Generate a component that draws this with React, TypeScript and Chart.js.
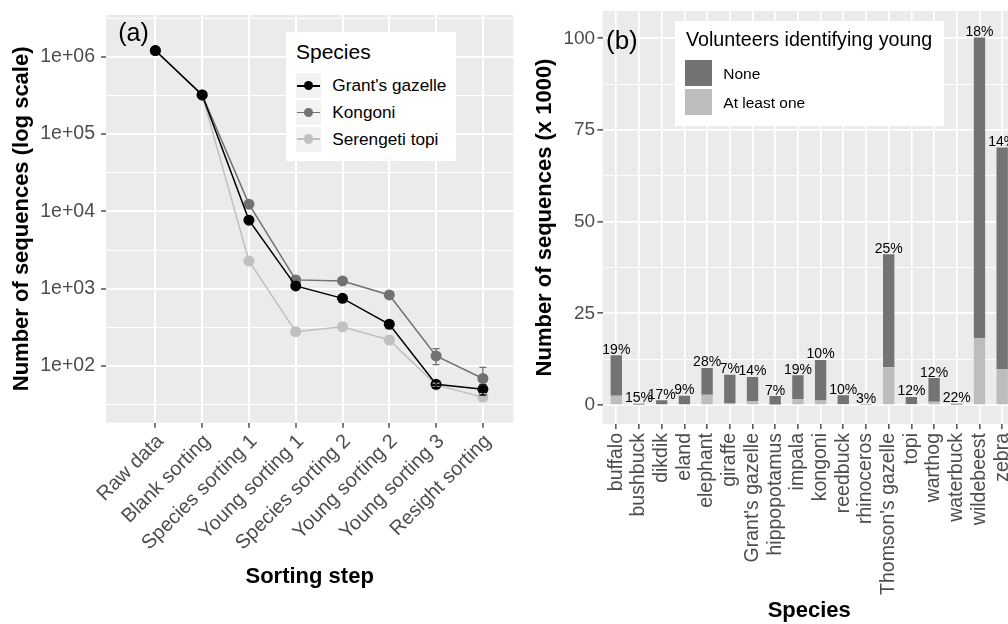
import React, { useEffect, useRef } from 'react';
import { Chart, registerables } from 'chart.js';

Chart.register(...registerables);

const FONT = "'Liberation Sans', Arial, Helvetica, sans-serif";

// ---------- Panel (a) data ----------
const sortingSteps = [
  'Raw data', 'Blank sorting', 'Species sorting 1', 'Young sorting 1',
  'Species sorting 2', 'Young sorting 2', 'Young sorting 3', 'Resight sorting',
];
const seriesNames = ["Grant's gazelle", 'Kongoni', 'Serengeti topi'];
const grantsGazelle = [1200000, 320000, 7700, 1085, 750, 347, 58, 50];
const kongoni = [1200000, 320000, 12400, 1300, 1260, 830, 135, 69];
const serengetiTopi = [1200000, 320000, 2280, 278, 322, 217, 57, 39.5];
const grantsLow: (number | null)[] = [null, null, null, null, null, null, 53, 42];
const grantsHigh: (number | null)[] = [null, null, null, null, null, null, 63, 57];
const kongoniLow: (number | null)[] = [null, null, null, null, null, null, 104, 57];
const kongoniHigh: (number | null)[] = [null, null, null, null, null, null, 168, 96];
const topiLow: (number | null)[] = [null, null, null, null, null, null, 54, 35];
const topiHigh: (number | null)[] = [null, null, null, null, null, null, 60, 44];
const seriesColors = ['#000000', '#717171', '#c0c0c0'];

const logMajorTicks = [100, 1000, 10000, 100000, 1000000];
const logMajorLabels = ['1e+02', '1e+03', '1e+04', '1e+05', '1e+06'];
const logMinorTicks = [10 ** 1.5, 10 ** 2.5, 10 ** 3.5, 10 ** 4.5, 10 ** 5.5, 10 ** 6.5];

// ---------- Panel (b) data ----------
const speciesNames = [
  'buffalo', 'bushbuck', 'dikdik', 'eland', 'elephant', 'giraffe', "Grant's gazelle",
  'hippopotamus', 'impala', 'kongoni', 'reedbuck', 'rhinoceros', "Thomson's gazelle",
  'topi', 'warthog', 'waterbuck', 'wildebeest', 'zebra',
];
const atLeastOne = [2.55, 0.06, 0.22, 0.23, 2.83, 0.58, 1.07, 0.17, 1.54, 1.23, 0.26, 0.002, 10.3, 0.26, 0.88, 0.07, 18.2, 9.8];
const noneCounts = [11.05, 0.3, 1.08, 2.32, 7.27, 7.69, 6.57, 2.28, 6.56, 11.07, 2.38, 0.05, 30.8, 1.94, 6.48, 0.24, 82.0, 60.4];
const pctLabels = ['19%', '15%', '17%', '9%', '28%', '7%', '14%', '7%', '19%', '10%', '10%', '3%', '25%', '12%', '12%', '22%', '18%', '14%'];
const fillNames = ['None', 'At least one'];
const fillColors = ['#737373', '#bdbdbd'];
const barMajorTicks = [0, 25, 50, 75, 100];
const barMajorLabels = ['0', '25', '50', '75', '100'];
const barMinorTicks = [12.5, 37.5, 62.5, 87.5];

const near = (a: number, b: number) => Math.abs(a - b) < 1e-6 * Math.max(1, Math.abs(b));

const panelBg = {
  id: 'panelBg',
  beforeDraw(chart: any) {
    const { ctx, chartArea: a } = chart;
    ctx.save();
    ctx.fillStyle = '#ebebeb';
    ctx.fillRect(a.left, a.top, a.right - a.left, a.bottom - a.top);
    ctx.restore();
  },
};

const errorSeries = [
  { low: topiLow, high: topiHigh, color: seriesColors[2] },
  { low: kongoniLow, high: kongoniHigh, color: seriesColors[1] },
  { low: grantsLow, high: grantsHigh, color: seriesColors[0] },
];

const errorBars = {
  id: 'errorBars',
  afterDatasetsDraw(chart: any) {
    const { ctx } = chart;
    const xs = chart.scales.x;
    const ys = chart.scales.y;
    ctx.save();
    errorSeries.forEach((s) => {
      ctx.strokeStyle = s.color;
      ctx.lineWidth = 1.3;
      s.low.forEach((lo, i) => {
        const hi = s.high[i];
        if (lo == null || hi == null) return;
        const px = xs.getPixelForValue(i);
        const y1 = ys.getPixelForValue(lo);
        const y2 = ys.getPixelForValue(hi);
        ctx.beginPath();
        ctx.moveTo(px, y1); ctx.lineTo(px, y2);
        ctx.moveTo(px - 3.5, y1); ctx.lineTo(px + 3.5, y1);
        ctx.moveTo(px - 3.5, y2); ctx.lineTo(px + 3.5, y2);
        ctx.stroke();
      });
    });
    ctx.restore();
  },
};

const pctLabelPlugin = {
  id: 'pctLabels',
  afterDatasetsDraw(chart: any) {
    const { ctx } = chart;
    const xs = chart.scales.x;
    const ys = chart.scales.y;
    ctx.save();
    ctx.fillStyle = '#000';
    ctx.font = `14px ${FONT}`;
    ctx.textAlign = 'center';
    ctx.textBaseline = 'alphabetic';
    pctLabels.forEach((lab, i) => {
      const total = atLeastOne[i] + noneCounts[i];
      ctx.fillText(lab, xs.getPixelForValue(i), ys.getPixelForValue(total) - 1.5);
    });
    ctx.restore();
  },
};

function Txt({ x, base, size, weight, children }: any) {
  return (
    <div
      style={{
        position: 'absolute', left: x, top: base - 0.8465 * size, fontSize: size,
        lineHeight: `${size}px`, fontWeight: weight || 'normal', color: '#000', whiteSpace: 'nowrap',
      }}
    >
      {children}
    </div>
  );
}

export default function App() {
  const refA = useRef<HTMLCanvasElement>(null);
  const refB = useRef<HTMLCanvasElement>(null);

  useEffect(() => {
    const seriesData = [grantsGazelle, kongoni, serengetiTopi];
    const chartA = new Chart(refA.current as HTMLCanvasElement, {
      type: 'line',
      data: {
        datasets: seriesData.map((vals, k) => ({
          label: seriesNames[k],
          data: vals.map((v, i) => ({ x: i, y: v })),
          borderColor: seriesColors[k],
          backgroundColor: seriesColors[k],
          borderWidth: 1.5,
          pointRadius: 5.5,
          pointBorderWidth: 0,
          pointHoverRadius: 5.5,
          tension: 0,
        })),
      },
      options: {
        responsive: false,
        animation: false,
        events: [],
        layout: { padding: { left: 0, top: 15, right: 6.7, bottom: 0 } },
        plugins: { legend: { display: false }, tooltip: { enabled: false } },
        scales: {
          x: {
            type: 'linear',
            min: -1.055,
            max: 7.65,
            afterBuildTicks: (axis: any) => { axis.ticks = sortingSteps.map((_, i) => ({ value: i })); },
            afterFit: (axis: any) => { axis.height = 201.3; axis.paddingLeft = 0; axis.paddingRight = 0; },
            ticks: {
              autoSkip: false, minRotation: 45, maxRotation: 45, padding: 2, labelOffset: 5,
              color: '#4d4d4d', font: { family: FONT, size: 20 },
              callback: (v: any) => sortingSteps[Math.round(v)] ?? '',
            },
            grid: { color: '#ffffff', lineWidth: 2, tickLength: 5, tickColor: '#333333', tickWidth: 1.3 },
            border: { display: false },
            title: {
              display: true, text: 'Sorting step', color: '#000',
              font: { family: FONT, size: 22, weight: 'bold' }, padding: { top: 0, bottom: 34 },
            },
          },
          y: {
            type: 'logarithmic',
            min: 18.5,
            max: 3.46e6,
            afterBuildTicks: (axis: any) => {
              axis.ticks = [...logMajorTicks, ...logMinorTicks].sort((a, b) => a - b).map((v) => ({ value: v }));
            },
            afterFit: (axis: any) => { axis.width = 106; axis.paddingTop = 0; axis.paddingBottom = 0; },
            ticks: {
              autoSkip: false, padding: 6, color: '#4d4d4d', font: { family: FONT, size: 19.5 },
              callback: (v: any) => {
                const idx = logMajorTicks.findIndex((t) => near(Number(v), t));
                return idx >= 0 ? logMajorLabels[idx] : '';
              },
            },
            grid: {
              color: '#ffffff',
              lineWidth: (c: any) => (logMajorTicks.some((t) => near(c.tick?.value, t)) ? 2 : 1),
              tickLength: 5,
              tickColor: (c: any) => (logMajorTicks.some((t) => near(c.tick?.value, t)) ? '#333333' : 'rgba(0,0,0,0)'),
              tickWidth: 1.3,
            },
            border: { display: false },
            title: {
              display: true, text: 'Number of sequences (log scale)', color: '#000',
              font: { family: FONT, size: 22, weight: 'bold' }, padding: { top: 8.3, bottom: 0 },
            },
          },
        },
      } as any,
      plugins: [panelBg, errorBars],
    });

    const chartB = new Chart(refB.current as HTMLCanvasElement, {
      type: 'bar',
      data: {
        datasets: [
          {
            label: fillNames[1],
            data: atLeastOne.map((v, i) => ({ x: i, y: v })),
            backgroundColor: fillColors[1],
            borderWidth: 0,
            categoryPercentage: 1,
            barPercentage: 0.5,
          },
          {
            label: fillNames[0],
            data: noneCounts.map((v, i) => ({ x: i, y: v })),
            backgroundColor: fillColors[0],
            borderWidth: 0,
            categoryPercentage: 1,
            barPercentage: 0.5,
          },
        ],
      },
      options: {
        responsive: false,
        animation: false,
        events: [],
        layout: { padding: { left: 0, top: 11, right: 4.2, bottom: 0 } },
        plugins: { legend: { display: false }, tooltip: { enabled: false } },
        scales: {
          x: {
            type: 'linear',
            stacked: true,
            offset: false,
            min: -0.6,
            max: 17.6,
            afterBuildTicks: (axis: any) => { axis.ticks = speciesNames.map((_, i) => ({ value: i })); },
            afterFit: (axis: any) => { axis.height = 200; axis.paddingLeft = 0; axis.paddingRight = 0; },
            ticks: {
              autoSkip: false, minRotation: 90, maxRotation: 90, padding: 4,
              color: '#4d4d4d', font: { family: FONT, size: 19.5 },
              callback: (v: any) => speciesNames[Math.round(v)] ?? '',
            },
            grid: { offset: false, color: '#ffffff', lineWidth: 1.7, tickLength: 5, tickColor: '#333333', tickWidth: 1.3 },
            border: { display: false },
            title: {
              display: true, text: 'Species', color: '#000',
              font: { family: FONT, size: 22, weight: 'bold' }, padding: { top: 0, bottom: 0 },
            },
          },
          y: {
            stacked: true,
            min: -5.18,
            max: 107.45,
            afterBuildTicks: (axis: any) => {
              axis.ticks = [...barMajorTicks, ...barMinorTicks].sort((a, b) => a - b).map((v) => ({ value: v }));
            },
            afterFit: (axis: any) => { axis.width = 82.7; axis.paddingTop = 0; axis.paddingBottom = 0; },
            ticks: {
              autoSkip: false, padding: 2.3, color: '#4d4d4d', font: { family: FONT, size: 19 },
              callback: (v: any) => {
                const idx = barMajorTicks.findIndex((t) => near(Number(v), t));
                return idx >= 0 ? barMajorLabels[idx] : '';
              },
            },
            grid: {
              color: '#ffffff',
              lineWidth: (c: any) => (barMajorTicks.some((t) => near(c.tick?.value, t)) ? 1.7 : 0.85),
              tickLength: 5.3,
              tickColor: (c: any) => (barMajorTicks.some((t) => near(c.tick?.value, t)) ? '#333333' : 'rgba(0,0,0,0)'),
              tickWidth: 1.3,
            },
            border: { display: false },
            title: {
              display: true, text: 'Number of sequences (x 1000)', color: '#000',
              font: { family: FONT, size: 22, weight: 'bold' }, padding: { top: 11.8, bottom: 0 },
            },
          },
        },
      } as any,
      plugins: [panelBg, pctLabelPlugin],
    });

    return () => {
      chartA.destroy();
      chartB.destroy();
    };
  }, []);

  return (
    <div
      style={{
        position: 'fixed', left: 0, top: 0, width: 1008, height: 624, overflow: 'hidden',
        background: '#ffffff', fontFamily: FONT,
      }}
    >
      <canvas ref={refA} width={520} height={624} style={{ position: 'absolute', left: 0, top: 0, width: 520, height: 624 }} />
      <canvas ref={refB} width={500} height={624} style={{ position: 'absolute', left: 520, top: 0, width: 500, height: 624 }} />

      <Txt x={118.3} base={41} size={25}>(a)</Txt>
      <Txt x={606} base={49} size={26}>(b)</Txt>

      {/* Legend (a) */}
      <div style={{ position: 'absolute', left: 286, top: 32, width: 170, height: 129, background: '#ffffff' }}>
        <Txt x={10} base={27} size={21}>Species</Txt>
        {seriesNames.map((name, i) => (
          <React.Fragment key={name}>
            <div style={{ position: 'absolute', left: 10, top: 41.3 + i * 26.7, width: 25, height: 25, background: '#f2f2f2' }}>
              <div style={{ position: 'absolute', left: 1, right: 1, top: 11.75, height: 1.5, background: seriesColors[i] }} />
              <div style={{ position: 'absolute', left: 7.8, top: 7.8, width: 9.4, height: 9.4, borderRadius: '50%', background: seriesColors[i] }} />
            </div>
            <Txt x={46.3} base={59.7 + i * 26.7} size={17.2}>{name}</Txt>
          </React.Fragment>
        ))}
      </div>

      {/* Legend (b) */}
      <div style={{ position: 'absolute', left: 675, top: 20.7, width: 269, height: 105, background: '#ffffff' }}>
        <Txt x={11} base={26.3} size={19.7}>Volunteers identifying young</Txt>
        {fillNames.map((name, i) => (
          <React.Fragment key={name}>
            <div style={{ position: 'absolute', left: 10, top: 39.3 + i * 29, width: 27.3, height: 26, background: fillColors[i] }} />
            <Txt x={48.3} base={58.3 + i * 29.3} size={15.5}>{name}</Txt>
          </React.Fragment>
        ))}
      </div>
    </div>
  );
}
